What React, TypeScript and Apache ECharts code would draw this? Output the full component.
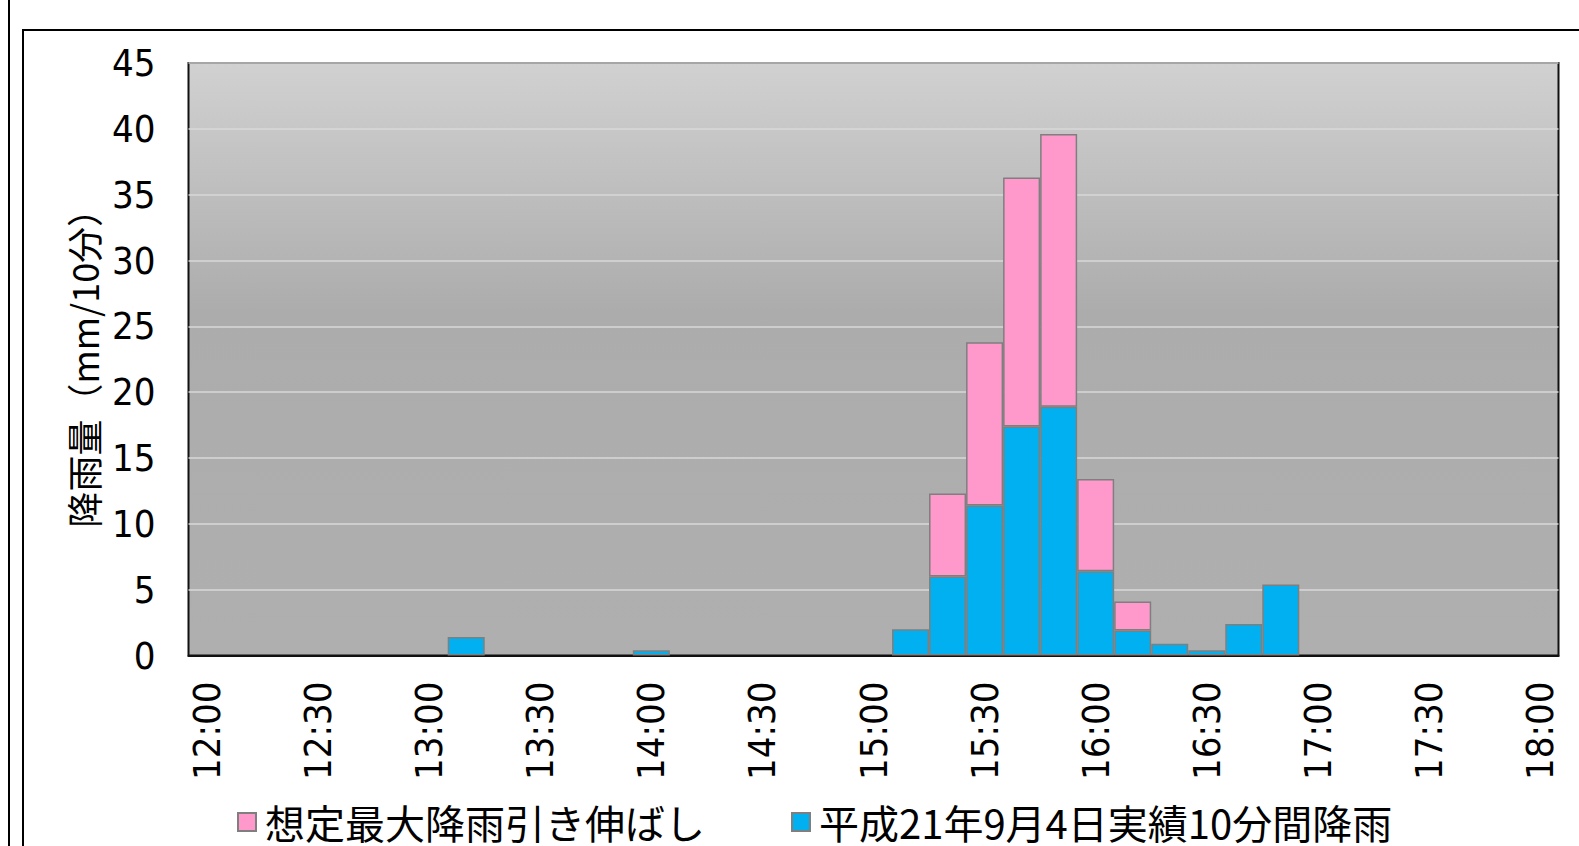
import React, { useEffect, useRef } from "react";
import * as echarts from "echarts";

const categories: string[] = [
  "12:00", "12:10", "12:20", "12:30", "12:40", "12:50",
  "13:00", "13:10", "13:20", "13:30", "13:40", "13:50",
  "14:00", "14:10", "14:20", "14:30", "14:40", "14:50",
  "15:00", "15:10", "15:20", "15:30", "15:40", "15:50",
  "16:00", "16:10", "16:20", "16:30", "16:40", "16:50",
  "17:00", "17:10", "17:20", "17:30", "17:40", "17:50",
  "18:00",
];

// 平成21年9月4日実績10分間降雨 (mm/10分)
const observed: (number | null)[] = [
  null, null, null, null, null, null,
  null, 1.4, null, null, null, null,
  0.4, null, null, null, null, null,
  null, 2.0, 6.0, 11.4, 17.4, 18.9,
  6.4, 1.9, 0.9, 0.4, 2.4, 5.4,
  null, null, null, null, null, null,
  null,
];

// 想定最大降雨引き伸ばし (上乗せ分)
const stretched: (number | null)[] = [
  null, null, null, null, null, null,
  null, null, null, null, null, null,
  null, null, null, null, null, null,
  null, null, 6.3, 12.4, 18.9, 20.7,
  7.0, 2.2, null, null, null, null,
  null, null, null, null, null, null,
  null,
];

const yTicks = { min: 0, max: 45, interval: 5 };
const seriesNames = ["想定最大降雨引き伸ばし", "平成21年9月4日実績10分間降雨"];

const NARROW = "'DejaVu Sans Condensed', 'Liberation Sans', sans-serif";
const CJK = "'Noto Sans CJK JP', 'Noto Sans', sans-serif";

export default function App() {
  const ref = useRef<HTMLDivElement>(null);
  useEffect(() => {
    if (!ref.current) return;
    const chart = echarts.init(ref.current, null, { renderer: "svg" });
    chart.setOption({
      animation: false,
      backgroundColor: "#ffffff",
      graphic: [
        {
          type: "line",
          shape: { x1: 9, y1: 0, x2: 9, y2: 846 },
          style: { stroke: "#000", lineWidth: 2 },
          silent: true,
        },
        {
          type: "rect",
          shape: { x: 23, y: 30, width: 1600, height: 900 },
          style: { fill: "none", stroke: "#000", lineWidth: 2 },
          silent: true,
        },
      ],
      grid: {
        left: 188.5,
        top: 63,
        right: 20.5,
        bottom: 190.5,
        show: true,
        borderColor: "#111",
        borderWidth: 2,
        backgroundColor: new echarts.graphic.LinearGradient(0, 0, 0, 1, [
          { offset: 0, color: "#d1d1d1" },
          { offset: 0.42, color: "#acacac" },
          { offset: 1, color: "#afafaf" },
        ]),
      },
      legend: {
        data: seriesNames,
        left: 232,
        top: 797,
        itemWidth: 18,
        itemHeight: 18,
        itemGap: 86,
        icon: "rect",
        textStyle: {
          fontFamily: CJK,
          fontSize: 40,
          color: "#000",
          lineHeight: 40,
          padding: [0, 0, 0, 4],
        },
      },
      xAxis: {
        type: "category",
        data: categories,
        boundaryGap: true,
        axisLine: { show: true, lineStyle: { color: "#111", width: 2 } },
        axisTick: { show: false },
        axisLabel: {
          interval: 2,
          rotate: 90,
          margin: 26,
          fontFamily: NARROW,
          fontSize: 38,
          color: "#000",
        },
        splitLine: { show: false },
      },
      yAxis: {
        type: "value",
        min: yTicks.min,
        max: yTicks.max,
        interval: yTicks.interval,
        name: "降雨量（mm/10分）",
        nameLocation: "middle",
        nameRotate: 90,
        nameGap: 86,
        nameTextStyle: { fontFamily: CJK, fontSize: 36, color: "#000" },
        axisLine: { show: false },
        axisTick: { show: false },
        axisLabel: {
          margin: 33,
          fontFamily: NARROW,
          fontSize: 38,
          color: "#000",
        },
        splitLine: { show: true, lineStyle: { color: "#d9d9d9", width: 1.5 } },
      },
      series: [
        {
          name: seriesNames[1],
          type: "bar",
          stack: "rain",
          data: observed,
          barCategoryGap: "0%",
          itemStyle: { color: "#00b0f0", borderColor: "#7f7f7f", borderWidth: 1.5 },
        },
        {
          name: seriesNames[0],
          type: "bar",
          stack: "rain",
          data: stretched,
          barCategoryGap: "0%",
          itemStyle: { color: "#ff99cc", borderColor: "#7f7f7f", borderWidth: 1.5 },
        },
      ],
    });
    return () => chart.dispose();
  }, []);
  return (
    <div
      ref={ref}
      style={{ position: "absolute", left: 0, top: 0, width: 1579, height: 846 }}
    />
  );
}
